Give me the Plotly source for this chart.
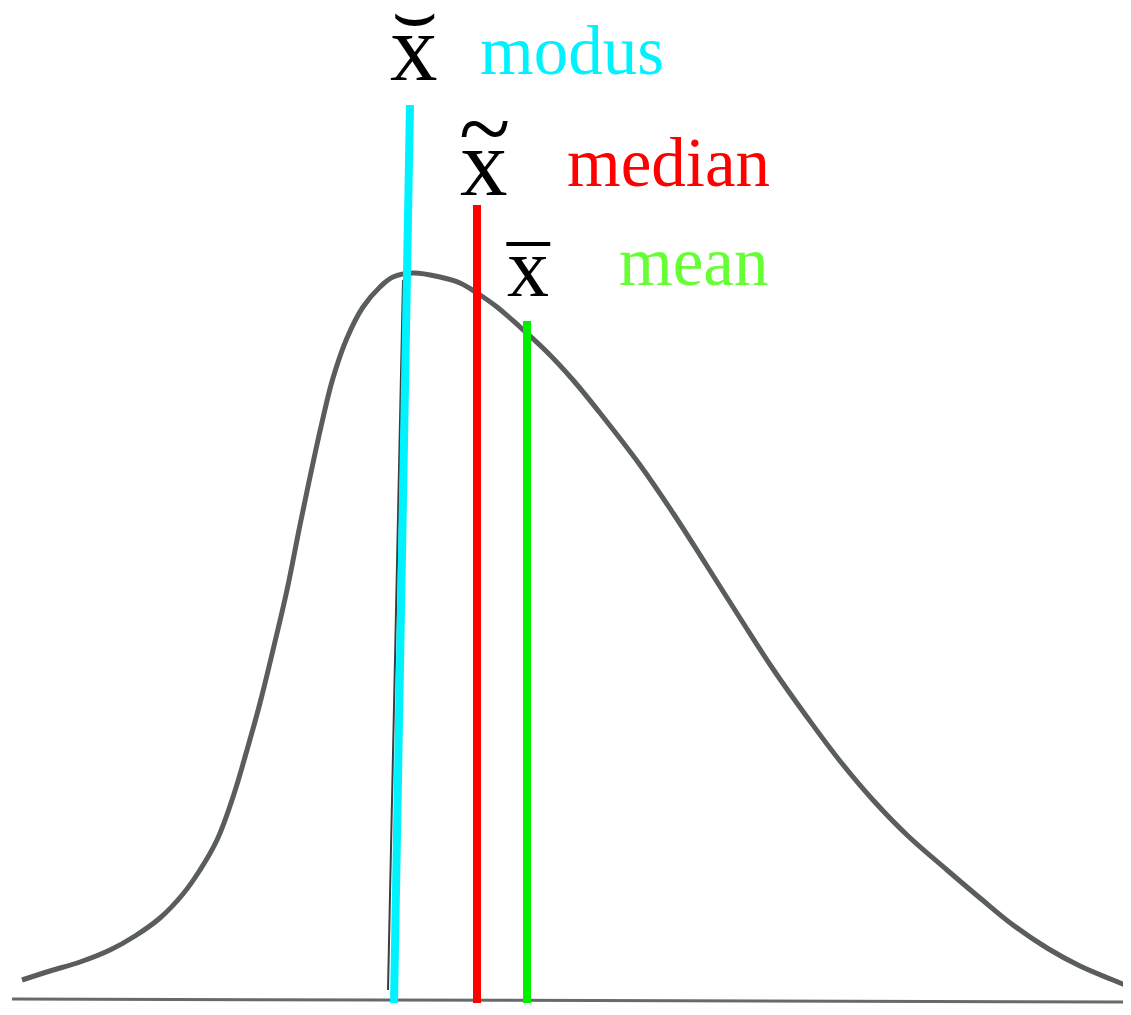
import plotly.graph_objects as go

# skewed distribution curve (x, height above the baseline)
curve_x = [22, 50, 80, 110, 135, 160, 183, 200, 217, 233, 247, 260, 273, 287, 300, 313,
           323, 333, 347, 363, 380, 393, 413, 440, 460, 477, 497, 520, 547, 573, 600, 640,
           673, 707, 740, 773, 807, 840, 873, 907, 947, 980, 1013, 1047, 1080, 1113, 1130]
curve_y = [20, 29, 38, 50, 64, 82, 106, 130, 160, 203, 250, 297, 350, 410, 475, 537,
           582, 622, 662, 693, 713, 723, 727, 723, 717, 707, 693, 673, 648, 620, 587, 535,
           487, 434, 382, 331, 283, 239, 200, 165, 130, 102, 75, 52, 34, 20, 13]

baseline_x = [12, 1131]
baseline_y = [1, -2]

# hand drawn mode line from the scan
scan_mode_x = [388, 403]
scan_mode_y = [10, 720]

# measures: name, x at bottom, x at top, top height
measures = ["modus", "median", "mean"]
measure_x_bottom = [394, 477, 527]
measure_x_top = [410, 477, 527]
measure_top = [895, 795, 679]
line_colors = ["#00f2ff", "#ff0000", "#00ee00"]
text_colors = ["#00f2ff", "#ff0000", "#66ff33"]
accents = ["⌣", "~", "¯"]
accent_fonts = ["DejaVu Sans", "Liberation Serif", "Liberation Serif"]

FONT = "Liberation Serif"

fig = go.Figure()

fig.add_trace(go.Scatter(x=baseline_x, y=baseline_y, mode="lines",
                         line=dict(color="#666a6a", width=3), hoverinfo="skip"))
fig.add_trace(go.Scatter(x=curve_x, y=curve_y, mode="lines",
                         line=dict(color="#595d5d", width=5, shape="spline", smoothing=1.1),
                         hoverinfo="skip"))
fig.add_trace(go.Scatter(x=scan_mode_x, y=scan_mode_y, mode="lines",
                         line=dict(color="#3a3d3d", width=2), hoverinfo="skip"))

for i, name in enumerate(measures):
    fig.add_trace(go.Scatter(x=[measure_x_bottom[i], measure_x_top[i]],
                             y=[-3, measure_top[i]], mode="lines",
                             line=dict(color=line_colors[i], width=8), hoverinfo="skip"))

# labels: x symbol, accent, word
label_x = [414, 484, 528]
label_y = [952, 837, 733]
label_size = [95, 95, 84]
accent_y = [975, 872, 723]
accent_shift = [13, 0, 0]
accent_size = [72, 95, 85]
word_x = [478, 565, 617]
word_y = [949, 837, 738]

for i, name in enumerate(measures):
    fig.add_annotation(x=label_x[i], y=label_y[i], text="x", showarrow=False,
                       xanchor="center", yanchor="middle",
                       font=dict(family=FONT, size=label_size[i], color="black"))
    fig.add_annotation(x=label_x[i], y=accent_y[i], text=accents[i], showarrow=False,
                       xanchor="center", yanchor="middle", yshift=accent_shift[i],
                       font=dict(family=accent_fonts[i], size=accent_size[i], color="black"))
    fig.add_annotation(x=word_x[i], y=word_y[i], text=name, showarrow=False,
                       xanchor="left", yanchor="middle",
                       font=dict(family=FONT, size=69, color=text_colors[i]))

# the page body adds an 8px margin, so the figure is 8px smaller than the window
fig.update_layout(
    width=1123, height=1007,
    margin=dict(l=0, r=0, t=0, b=0),
    showlegend=False,
    paper_bgcolor="white",
    plot_bgcolor="white",
    xaxis=dict(range=[8, 1131], visible=False, fixedrange=True),
    yaxis=dict(range=[-15, 992], visible=False, fixedrange=True),
)

fig.write_html("out.html")
